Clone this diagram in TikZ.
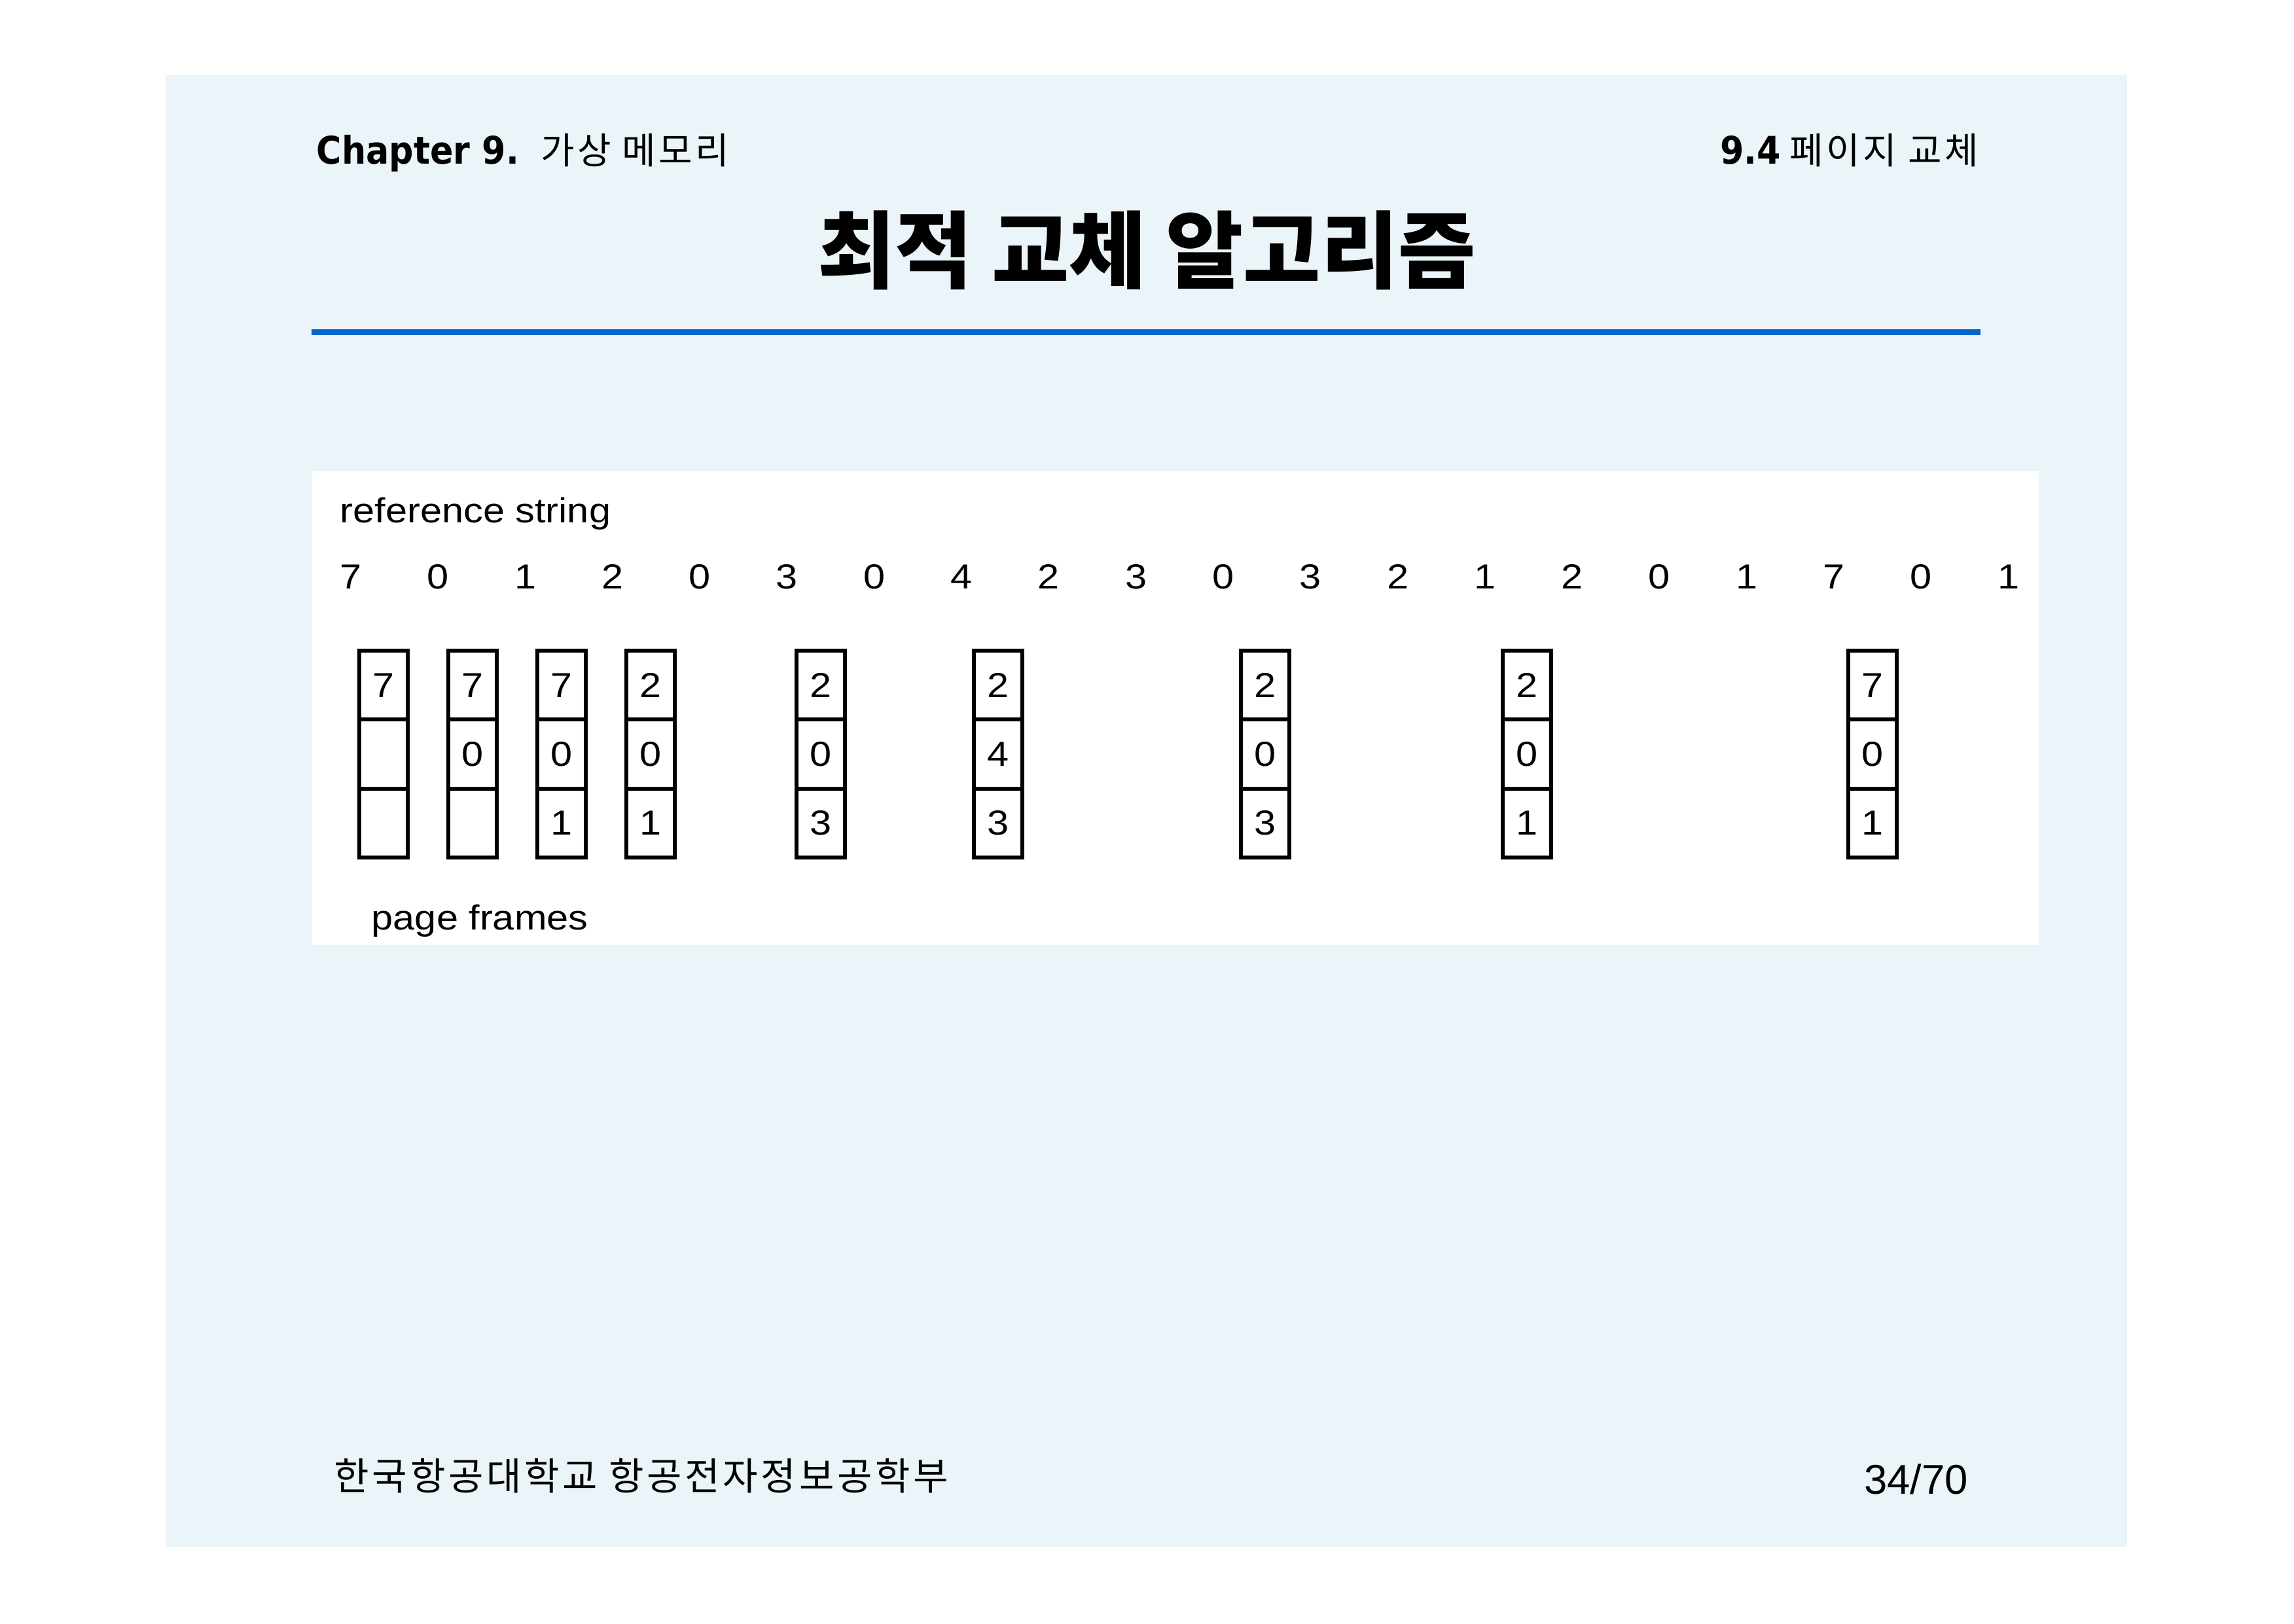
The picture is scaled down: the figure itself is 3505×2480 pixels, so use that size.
\documentclass[tikz,border=0pt]{standalone}
\usepackage{fontspec}
\usepackage{xcolor}
\usepackage{tikz}
\usetikzlibrary{positioning}

\newfontfamily\krfont{Noto Sans CJK KR}
\newfontfamily\krwide[LetterSpace=8]{Noto Sans CJK KR}
\newfontfamily\hdfont[FakeStretch=0.9]{DejaVu Sans}
\newfontfamily\figfont[FakeStretch=1.12]{Liberation Sans}
\newfontfamily\pgfont{Liberation Sans}

\definecolor{slidebg}{RGB}{235,244,248}
\definecolor{rulecol}{RGB}{0,102,204}

\tikzset{
  refdigit/.style={inner sep=0pt, font=\figfont\fontsize{12.8}{14}\selectfont},
  framecell/.style={draw, line width=1.45pt, minimum width=0.627cm, minimum height=0.8923cm,
    inner sep=0pt, outer sep=0pt, font=\figfont\fontsize{12.8}{14}\selectfont},
  figlabel/.style={inner sep=0pt, anchor=base west, font=\figfont\fontsize{12.8}{14}\selectfont}
}

\begin{document}
\begin{tikzpicture}[x=0.008474cm, y=-0.008474cm]
            \useasboundingbox (0, 0) rectangle (3505, 2480);
            \fill[white] (0, 0) rectangle (3505, 2480);
            \fill[slidebg] (253, 114) rectangle (3250, 2363);

            % header
            \node[inner sep=0pt, anchor=base west] (chap) at (483, 250)
                {{\hdfont\bfseries\fontsize{14}{16}\selectfont Chapter 9.}\hspace{8pt}{\krwide\fontsize{13.5}{16}\selectfont 가상 메모리}};
            \node[inner sep=0pt, anchor=base east] (sect) at (3024, 250)
                {{\hdfont\bfseries\fontsize{14}{16}\selectfont 9.4} {\krwide\fontsize{13.5}{16}\selectfont 페이지 교체}};
            \node[inner sep=0pt] (title) at (1752, 382)
                {\krfont\bfseries\fontsize{31}{36}\selectfont 최적 교체 알고리즘};
            \draw[rulecol, line width=2.2pt] (476, 507.5) -- (3026, 507.5);

            % figure
            \fill[white] (477, 720) rectangle (3115, 1444);
            \node[figlabel] (refstr) at (519, 798) {reference string};
            \foreach \v [count=\i from 0] in {7,0,1,2,0,3,0,4,2,3,0,3,2,1,2,0,1,7,0,1}
                \node[refdigit] (r\i) at (536 + 133.3*\i, 881) {\v};

            \foreach \x/\a/\b/\c [count=\k] in {586/7/{}/{}, 722/7/0/{}, 858/7/0/1, 994/2/0/1,
                1254/2/0/3, 1525/2/4/3, 1933/2/0/3, 2333/2/0/1, 2861/7/0/1} {
                \node[framecell] (f\k a) at (\x, 1046.7) {\a};
                \node[framecell, below=0 of f\k a] (f\k b) {\b};
                \node[framecell, below=0 of f\k b] (f\k c) {\c};
            }
            \node[figlabel] (pgframes) at (567, 1420) {page frames};

            % footer
            \node[inner sep=0pt, anchor=base west] (school) at (510, 2276)
                {\krwide\fontsize{14}{16}\selectfont 한국항공대학교 항공전자정보공학부};
            \node[inner sep=0pt, anchor=base east] (pageno) at (3008, 2282)
                {\pgfont\fontsize{15.3}{18}\selectfont 34/70};
        \end{tikzpicture}
\end{document}
